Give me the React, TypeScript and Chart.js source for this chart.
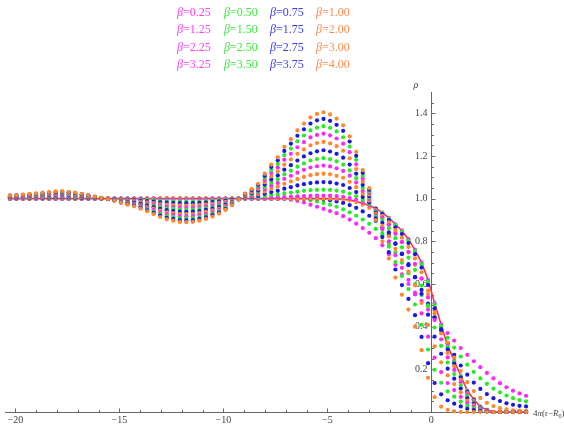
import React, { useEffect, useRef } from "react";
import { Chart, registerables } from "chart.js";

Chart.register(...registerables);

// x = 4π(r − R0) sample positions
const xValues = [
  -20.263, -19.949, -19.635, -19.321, -19.007, -18.693, -18.378, -18.064, -17.75, -17.436,
  -17.122, -16.808, -16.493, -16.179, -15.865, -15.551, -15.237, -14.923, -14.608, -14.294,
  -13.98, -13.666, -13.352, -13.038, -12.723, -12.409, -12.095, -11.781, -11.467, -11.153,
  -10.838, -10.524, -10.21, -9.896, -9.582, -9.268, -8.954, -8.639, -8.325, -8.011,
  -7.697, -7.383, -7.069, -6.754, -6.44, -6.126, -5.812, -5.498, -5.184, -4.869,
  -4.555, -4.241, -3.927, -3.613, -3.299, -2.985, -2.67, -2.356, -2.042, -1.728,
  -1.414, -1.1, -0.785, -0.471, -0.157, 0.157, 0.471, 0.785, 1.1, 1.414,
  1.728, 2.042, 2.356, 2.67, 2.985, 3.299, 3.613, 3.927, 4.241, 4.555,
];

const betaLabels = [
  "0.25", "0.50", "0.75", "1.00", "1.25", "1.50", "1.75", "2.00",
  "2.25", "2.50", "2.75", "3.00", "3.25", "3.50", "3.75", "4.00",
];

const referenceCurve = [
  1, 1, 1, 1, 1, 1, 1, 1, 1, 1, 1, 1, 1, 1, 1, 1, 1, 1, 1, 1,
  1, 1, 1, 1, 1, 1, 1, 1, 1, 1, 1, 1, 1, 1, 1, 1, 1, 1, 1, 1,
  1, 1, 1, 1, 1, 1, 1, 1, 1, 1,
  0.999, 0.997, 0.993, 0.987, 0.978, 0.968, 0.955, 0.935, 0.91, 0.88,
  0.85, 0.81, 0.76, 0.7, 0.62, 0.51, 0.41, 0.31, 0.24, 0.17,
  0.1, 0.06, 0.025, 0.01, 0, 0, 0, 0, 0, 0,
];

const rho025 = [
  1, 1, 1, 1, 1, 1, 1, 1, 1, 1, 1, 1, 1, 1, 1, 1, 1, 1, 1, 1,
  1, 1, 1, 1, 1, 1, 1, 1, 1, 1, 1, 1, 1, 1, 1, 1, 1, 1, 1, 1,
  1, 1, 1, 0.995, 0.99, 0.982, 0.972, 0.962, 0.952, 0.942,
  0.932, 0.918, 0.902, 0.883, 0.862, 0.84, 0.815, 0.782, 0.74, 0.69,
  0.645, 0.6, 0.56, 0.52, 0.48, 0.44, 0.405, 0.37, 0.335, 0.3,
  0.268, 0.238, 0.21, 0.183, 0.158, 0.135, 0.116, 0.1, 0.087, 0.076,
];
const rho050 = [
  1, 1, 1, 1, 1, 1, 1, 1, 1, 1, 1, 1, 1, 1, 1, 1, 1, 1, 1, 1,
  1, 1, 1, 1, 1, 1, 1, 1, 1, 1, 1, 1, 1, 1, 1, 1, 1, 1, 1, 1,
  1, 1, 1, 1, 1, 0.997, 0.993, 0.987, 0.98, 0.972,
  0.962, 0.95, 0.936, 0.92, 0.902, 0.882, 0.858, 0.828, 0.79, 0.748,
  0.7, 0.65, 0.6, 0.548, 0.495, 0.445, 0.395, 0.348, 0.302, 0.26,
  0.222, 0.188, 0.158, 0.132, 0.11, 0.092, 0.077, 0.065, 0.056, 0.05,
];
const rho075 = [
  1, 1, 1, 1, 1, 1, 1, 1, 1, 1, 1, 1, 1, 1, 1, 1, 1, 1, 1, 1,
  1, 1, 1, 1, 1, 1, 1, 1, 1, 1, 1, 1, 1, 1, 1, 1, 1, 1, 1, 1,
  1, 1, 1, 1, 1, 1, 1, 1, 0.997, 0.993,
  0.987, 0.98, 0.97, 0.957, 0.94, 0.92, 0.896, 0.866, 0.83, 0.788,
  0.74, 0.688, 0.632, 0.572, 0.508, 0.444, 0.382, 0.322, 0.268, 0.218,
  0.175, 0.138, 0.108, 0.084, 0.065, 0.051, 0.041, 0.034, 0.029, 0.026,
];
const rho100 = [
  1, 1, 1, 1, 1, 1, 1, 1, 1, 1, 1, 1, 1, 1, 1, 1, 1, 1, 1, 1,
  1, 1, 1, 1, 1, 1, 1, 1, 1, 1, 1, 1, 1, 1, 1, 1, 1, 1, 1, 1,
  1, 1, 1, 1, 1, 1, 1, 1, 1, 1,
  1, 0.997, 0.992, 0.984, 0.972, 0.957, 0.937, 0.912, 0.88, 0.842,
  0.798, 0.748, 0.69, 0.625, 0.553, 0.477, 0.4, 0.325, 0.255, 0.192,
  0.14, 0.098, 0.066, 0.043, 0.028, 0.018, 0.012, 0.008, 0.006, 0.005,
];
const rho125 = [
  1.001, 1.001, 1.001, 1.001, 1.001, 1.001, 1.001, 1.001, 1.001, 1.001,
  1.001, 1.001, 1.001, 1.0, 1.0, 1.0, 1.0, 0.999, 0.999, 0.999,
  0.998, 0.998, 0.998, 0.997, 0.997, 0.996, 0.996, 0.996, 0.996, 0.996,
  0.997, 0.997, 0.998, 0.998, 0.999, 1.0, 1.001, 1.002, 1.002, 1.004,
  1.006, 1.007, 1.008, 1.01, 1.011, 1.012, 1.013, 1.014, 1.014, 1.014,
  1.012, 1.009, 1.003, 0.995, 0.983, 0.97, 0.955, 0.935, 0.91, 0.88,
  0.85, 0.81, 0.76, 0.7, 0.62, 0.51, 0.41, 0.31, 0.24, 0.17,
  0.1, 0.06, 0.025, 0.01, 0, 0, 0, 0, 0, 0,
];
const rho150 = [
  1.002, 1.002, 1.002, 1.002, 1.003, 1.003, 1.003, 1.004, 1.004, 1.003,
  1.003, 1.002, 1.002, 1.001, 1.0, 1.0, 0.999, 0.998, 0.997, 0.996,
  0.995, 0.994, 0.993, 0.991, 0.99, 0.989, 0.989, 0.989, 0.989, 0.989,
  0.99, 0.991, 0.993, 0.995, 0.997, 1.0, 1.003, 1.005, 1.007, 1.012,
  1.017, 1.02, 1.025, 1.029, 1.033, 1.037, 1.04, 1.041, 1.042, 1.041,
  1.038, 1.033, 1.024, 1.011, 0.994, 0.976, 0.954, 0.933, 0.907, 0.876,
  0.845, 0.804, 0.754, 0.693, 0.612, 0.503, 0.403, 0.305, 0.236, 0.167,
  0.098, 0.059, 0.025, 0.01, 0, 0, 0, 0, 0, 0,
];
const rho175 = [
  1.003, 1.003, 1.004, 1.004, 1.005, 1.005, 1.006, 1.007, 1.007, 1.006,
  1.005, 1.004, 1.003, 1.002, 1.001, 1.0, 0.998, 0.996, 0.995, 0.993,
  0.991, 0.989, 0.986, 0.983, 0.981, 0.98, 0.979, 0.979, 0.979, 0.98,
  0.982, 0.984, 0.987, 0.99, 0.994, 0.999, 1.005, 1.009, 1.013, 1.023,
  1.031, 1.037, 1.047, 1.054, 1.062, 1.068, 1.073, 1.076, 1.078, 1.076,
  1.071, 1.064, 1.05, 1.031, 1.008, 0.983, 0.952, 0.928, 0.9, 0.866,
  0.834, 0.792, 0.74, 0.677, 0.595, 0.486, 0.389, 0.294, 0.227, 0.161,
  0.095, 0.057, 0.024, 0.009, 0, 0, 0, 0, 0, 0,
];
const rho200 = [
  1.004, 1.005, 1.005, 1.006, 1.007, 1.008, 1.009, 1.01, 1.01, 1.009,
  1.008, 1.007, 1.005, 1.003, 1.001, 0.999, 0.997, 0.994, 0.992, 0.99,
  0.986, 0.983, 0.979, 0.975, 0.972, 0.97, 0.969, 0.968, 0.969, 0.97,
  0.973, 0.976, 0.98, 0.985, 0.991, 0.999, 1.007, 1.013, 1.02, 1.034,
  1.046, 1.056, 1.07, 1.081, 1.092, 1.102, 1.11, 1.115, 1.117, 1.114,
  1.107, 1.098, 1.079, 1.054, 1.023, 0.991, 0.949, 0.92, 0.889, 0.853,
  0.817, 0.774, 0.72, 0.655, 0.569, 0.462, 0.368, 0.277, 0.214, 0.151,
  0.089, 0.053, 0.022, 0.009, 0, 0, 0, 0, 0, 0,
];
const rho225 = [
  1.006, 1.006, 1.007, 1.008, 1.01, 1.011, 1.012, 1.013, 1.013, 1.012,
  1.011, 1.009, 1.007, 1.004, 1.002, 0.999, 0.996, 0.992, 0.989, 0.986,
  0.982, 0.977, 0.972, 0.967, 0.963, 0.961, 0.958, 0.958, 0.958, 0.961,
  0.964, 0.968, 0.973, 0.98, 0.988, 0.998, 1.009, 1.017, 1.027, 1.045,
  1.061, 1.074, 1.093, 1.107, 1.122, 1.135, 1.146, 1.152, 1.155, 1.151,
  1.142, 1.13, 1.108, 1.076, 1.037, 0.999, 0.945, 0.911, 0.876, 0.835,
  0.796, 0.751, 0.695, 0.626, 0.537, 0.431, 0.341, 0.256, 0.197, 0.139,
  0.082, 0.049, 0.021, 0.008, 0, 0, 0, 0, 0, 0,
];
const rho250 = [
  1.007, 1.008, 1.009, 1.01, 1.012, 1.013, 1.015, 1.016, 1.016, 1.015,
  1.013, 1.011, 1.008, 1.005, 1.002, 0.999, 0.995, 0.991, 0.987, 0.983,
  0.978, 0.972, 0.966, 0.96, 0.954, 0.952, 0.949, 0.948, 0.949, 0.952,
  0.955, 0.961, 0.967, 0.975, 0.986, 0.998, 1.011, 1.021, 1.033, 1.055,
  1.075, 1.091, 1.114, 1.131, 1.15, 1.165, 1.179, 1.186, 1.19, 1.185,
  1.175, 1.16, 1.133, 1.096, 1.051, 1.006, 0.941, 0.9, 0.861, 0.815,
  0.772, 0.724, 0.666, 0.593, 0.5, 0.396, 0.31, 0.232, 0.178, 0.126,
  0.074, 0.044, 0.019, 0.007, 0, 0, 0, 0, 0, 0,
];
const rho275 = [
  1.008, 1.009, 1.011, 1.012, 1.014, 1.016, 1.017, 1.019, 1.02, 1.018,
  1.016, 1.013, 1.01, 1.006, 1.002, 0.999, 0.994, 0.989, 0.984, 0.98,
  0.974, 0.967, 0.96, 0.952, 0.946, 0.942, 0.939, 0.938, 0.939, 0.942,
  0.947, 0.953, 0.961, 0.971, 0.983, 0.998, 1.014, 1.025, 1.039, 1.066,
  1.09, 1.109, 1.136, 1.157, 1.179, 1.198, 1.213, 1.222, 1.227, 1.221,
  1.21, 1.192, 1.16, 1.117, 1.065, 1.012, 0.935, 0.887, 0.842, 0.791,
  0.743, 0.693, 0.632, 0.554, 0.456, 0.353, 0.273, 0.203, 0.156, 0.11,
  0.064, 0.039, 0.016, 0.006, 0, 0, 0, 0, 0, 0,
];
const rho300 = [
  1.01, 1.011, 1.013, 1.014, 1.016, 1.018, 1.02, 1.022, 1.023, 1.021,
  1.018, 1.015, 1.011, 1.007, 1.003, 0.999, 0.993, 0.987, 0.982, 0.976,
  0.969, 0.961, 0.953, 0.944, 0.936, 0.932, 0.928, 0.928, 0.928, 0.932,
  0.938, 0.945, 0.954, 0.965, 0.98, 0.997, 1.016, 1.029, 1.046, 1.077,
  1.105, 1.128, 1.16, 1.184, 1.21, 1.231, 1.25, 1.261, 1.266, 1.259,
  1.246, 1.225, 1.189, 1.139, 1.08, 1.02, 0.93, 0.873, 0.823, 0.765,
  0.712, 0.658, 0.594, 0.511, 0.408, 0.308, 0.233, 0.172, 0.131, 0.092,
  0.054, 0.032, 0.014, 0.005, 0, 0, 0, 0, 0, 0,
];
const rho325 = [
  1.011, 1.012, 1.014, 1.016, 1.019, 1.021, 1.023, 1.026, 1.026, 1.024,
  1.021, 1.017, 1.013, 1.008, 1.003, 0.998, 0.992, 0.985, 0.979, 0.973,
  0.965, 0.955, 0.946, 0.935, 0.927, 0.923, 0.918, 0.917, 0.918, 0.923,
  0.928, 0.937, 0.947, 0.96, 0.977, 0.997, 1.018, 1.034, 1.053, 1.088,
  1.12, 1.146, 1.183, 1.21, 1.241, 1.265, 1.287, 1.299, 1.305, 1.297,
  1.282, 1.258, 1.218, 1.161, 1.095, 1.028, 0.923, 0.857, 0.8, 0.735,
  0.676, 0.619, 0.551, 0.462, 0.353, 0.255, 0.187, 0.136, 0.103, 0.071,
  0.042, 0.025, 0.011, 0.004, 0, 0, 0, 0, 0, 0,
];
const rho350 = [
  1.013, 1.014, 1.016, 1.018, 1.021, 1.023, 1.026, 1.029, 1.029, 1.027,
  1.023, 1.019, 1.014, 1.009, 1.003, 0.998, 0.992, 0.983, 0.977, 0.97,
  0.961, 0.95, 0.939, 0.928, 0.918, 0.914, 0.909, 0.908, 0.909, 0.914,
  0.92, 0.93, 0.941, 0.956, 0.975, 0.997, 1.02, 1.037, 1.059, 1.099,
  1.134, 1.163, 1.204, 1.235, 1.269, 1.296, 1.32, 1.333, 1.34, 1.332,
  1.315, 1.288, 1.244, 1.182, 1.108, 1.035, 0.916, 0.839, 0.775, 0.703,
  0.637, 0.576, 0.504, 0.409, 0.293, 0.198, 0.137, 0.097, 0.072, 0.049,
  0.029, 0.017, 0.007, 0.003, 0, 0, 0, 0, 0, 0,
];
const rho375 = [
  1.014, 1.015, 1.018, 1.02, 1.023, 1.026, 1.029, 1.031, 1.032, 1.03,
  1.026, 1.021, 1.016, 1.009, 1.004, 0.998, 0.991, 0.982, 0.974, 0.967,
  0.957, 0.945, 0.933, 0.921, 0.91, 0.905, 0.899, 0.898, 0.899, 0.905,
  0.912, 0.923, 0.935, 0.951, 0.972, 0.996, 1.022, 1.041, 1.065, 1.108,
  1.148, 1.18, 1.224, 1.258, 1.295, 1.325, 1.352, 1.367, 1.374, 1.365,
  1.346, 1.318, 1.268, 1.201, 1.121, 1.042, 0.908, 0.82, 0.749, 0.668,
  0.595, 0.53, 0.454, 0.352, 0.229, 0.136, 0.083, 0.055, 0.039, 0.026,
  0.015, 0.009, 0.004, 0.002, 0, 0, 0, 0, 0, 0,
];
const rho400 = [
  1.015, 1.016, 1.019, 1.022, 1.025, 1.028, 1.031, 1.034, 1.035, 1.032,
  1.028, 1.023, 1.017, 1.01, 1.004, 0.998, 0.99, 0.98, 0.972, 0.964,
  0.953, 0.941, 0.928, 0.914, 0.903, 0.897, 0.891, 0.89, 0.891, 0.897,
  0.905, 0.916, 0.93, 0.947, 0.97, 0.996, 1.024, 1.045, 1.07, 1.117,
  1.16, 1.194, 1.243, 1.279, 1.32, 1.352, 1.381, 1.397, 1.405, 1.395,
  1.375, 1.344, 1.292, 1.219, 1.134, 1.049, 0.9, 0.8, 0.72, 0.63,
  0.55, 0.48, 0.4, 0.29, 0.16, 0.07, 0.025, 0.01, 0.003, 0,
  0, 0, 0, 0, 0, 0, 0, 0, 0, 0,
];

const seriesValues = [
  rho025, rho050, rho075, rho100, rho125, rho150, rho175, rho200,
  rho225, rho250, rho275, rho300, rho325, rho350, rho375, rho400,
];

const pointColors = ["rgb(255,40,255)", "rgb(40,235,40)", "rgb(25,25,230)", "rgb(255,135,45)"];
const legendColors = ["#ff3cff", "#3ce83c", "#3a3aee", "#ff8a48"];
const referenceColor = "rgb(245,50,80)";

const xMajorTicks = [-20, -15, -10, -5, 0];
const xMinorTicks = [-20, -19, -18, -17, -16, -15, -14, -13, -12, -11, -10, -9, -8, -7, -6, -5, -4, -3, -2, -1, 0, 1, 2, 3, 4];
const yMajorTicks = [0.2, 0.4, 0.6, 0.8, 1.0, 1.2, 1.4];
const yMinorTicks = [0.05, 0.1, 0.15, 0.25, 0.3, 0.35, 0.45, 0.5, 0.55, 0.65, 0.7, 0.75, 0.85, 0.9, 0.95, 1.05, 1.1, 1.15, 1.25, 1.3, 1.35, 1.45];

const SERIF = '"Liberation Serif", "DejaVu Serif", serif';

const axesPlugin = {
  id: "mmaAxes",
  beforeDatasetsDraw(chart: any) {
    const { ctx, chartArea, scales } = chart;
    const xs = scales.x;
    const ys = scales.y;
    const x0 = Math.round(xs.getPixelForValue(0)) + 0.5;
    const y0 = Math.round(ys.getPixelForValue(0)) + 0.5;
    ctx.save();
    ctx.strokeStyle = "#666";
    ctx.lineWidth = 1;
    ctx.beginPath();
    ctx.moveTo(chartArea.left, y0);
    ctx.lineTo(chartArea.right, y0);
    ctx.moveTo(x0, chartArea.bottom);
    ctx.lineTo(x0, chartArea.top);
    ctx.stroke();
    ctx.beginPath();
    for (const v of xMinorTicks) {
      const px = Math.round(xs.getPixelForValue(v)) + 0.5;
      const len = xMajorTicks.includes(v) ? 4 : 2.5;
      ctx.moveTo(px, y0);
      ctx.lineTo(px, y0 - len);
    }
    for (const v of yMajorTicks) {
      const py = Math.round(ys.getPixelForValue(v)) + 0.5;
      ctx.moveTo(x0, py);
      ctx.lineTo(x0 + 4, py);
    }
    for (const v of yMinorTicks) {
      const py = Math.round(ys.getPixelForValue(v)) + 0.5;
      ctx.moveTo(x0, py);
      ctx.lineTo(x0 + 2.5, py);
    }
    ctx.stroke();
    ctx.fillStyle = "#444";
    ctx.font = `10px ${SERIF}`;
    ctx.textAlign = "center";
    ctx.textBaseline = "top";
    for (const v of xMajorTicks) {
      const label = v < 0 ? "\u2212" + Math.abs(v) : String(v);
      ctx.fillText(label, xs.getPixelForValue(v), y0 + 3);
    }
    ctx.textAlign = "right";
    ctx.textBaseline = "middle";
    for (const v of yMajorTicks) {
      ctx.fillText(v.toFixed(1), x0 - 4, ys.getPixelForValue(v));
    }
    // axis labels
    ctx.textAlign = "left";
    ctx.textBaseline = "alphabetic";
    ctx.font = `italic 10px ${SERIF}`;
    ctx.fillText("\u03c1", x0 - 18, chartArea.top - 4);
    let lx = chartArea.right + 6;
    const ly = y0 + 3;
    ctx.font = `9px ${SERIF}`;
    ctx.fillText("4", lx, ly);
    lx += ctx.measureText("4").width;
    ctx.font = `italic 9px ${SERIF}`;
    ctx.fillText("\u03c0", lx, ly);
    lx += ctx.measureText("\u03c0").width;
    ctx.font = `9px ${SERIF}`;
    ctx.fillText("(r\u2212", lx, ly);
    lx += ctx.measureText("(r\u2212").width;
    ctx.font = `italic 9px ${SERIF}`;
    ctx.fillText("R", lx, ly);
    lx += ctx.measureText("R").width;
    ctx.font = `6px ${SERIF}`;
    ctx.fillText("0", lx, ly + 2);
    lx += ctx.measureText("0").width;
    ctx.font = `9px ${SERIF}`;
    ctx.fillText(")", lx, ly);
    ctx.restore();
  },
  afterDraw(chart: any) {
    const { ctx } = chart;
    ctx.save();
    ctx.textBaseline = "middle";
    ctx.textAlign = "left";
    const colX = [177, 224, 270, 316];
    for (let i = 0; i < betaLabels.length; i++) {
      const row = Math.floor(i / 4);
      const col = i % 4;
      const y = 12.7 + row * 17.4;
      let x = colX[col];
      ctx.fillStyle = legendColors[col];
      ctx.font = `italic 12px ${SERIF}`;
      ctx.fillText("\u03b2", x, y);
      x += ctx.measureText("\u03b2").width;
      ctx.font = `12px ${SERIF}`;
      ctx.fillText("=" + betaLabels[i], x, y);
    }
    ctx.restore();
  },
};

export default function App() {
  const canvasRef = useRef<HTMLCanvasElement | null>(null);

  useEffect(() => {
    const canvas = canvasRef.current;
    if (!canvas) return;
    const datasets: any[] = [
      {
        label: "reference",
        data: xValues.map((x, i) => ({ x, y: referenceCurve[i] })),
        showLine: true,
        borderColor: referenceColor,
        borderWidth: 1.6,
        pointRadius: 0,
        clip: false,
        order: 100,
      },
    ];
    seriesValues.forEach((vals, k) => {
      datasets.push({
        label: "\u03b2=" + betaLabels[k],
        data: xValues.map((x, i) => ({ x, y: vals[i] })),
        showLine: false,
        backgroundColor: pointColors[k % 4],
        borderColor: pointColors[k % 4],
        pointRadius: 2.1,
        pointBorderWidth: 0,
        borderWidth: 0,
        clip: false,
        order: 16 - k,
      });
    });
    const chart = new Chart(canvas, {
      type: "scatter",
      data: { datasets },
      options: {
        responsive: false,
        animation: false,
        devicePixelRatio: 1,
        layout: { padding: { left: 5, right: 37, top: 92, bottom: 12 } },
        scales: {
          x: { type: "linear", min: -20.5, max: 4.6, display: false },
          y: { type: "linear", min: 0, max: 1.5, display: false },
        },
        plugins: { legend: { display: false }, tooltip: { enabled: false } },
      },
      plugins: [axesPlugin],
    } as any);
    return () => chart.destroy();
  }, []);

  return (
    <div style={{ position: "absolute", left: 0, top: 0, width: 564, height: 424, background: "#fff" }}>
      <canvas ref={canvasRef} width={564} height={424} style={{ display: "block", width: 564, height: 424 }} />
    </div>
  );
}
